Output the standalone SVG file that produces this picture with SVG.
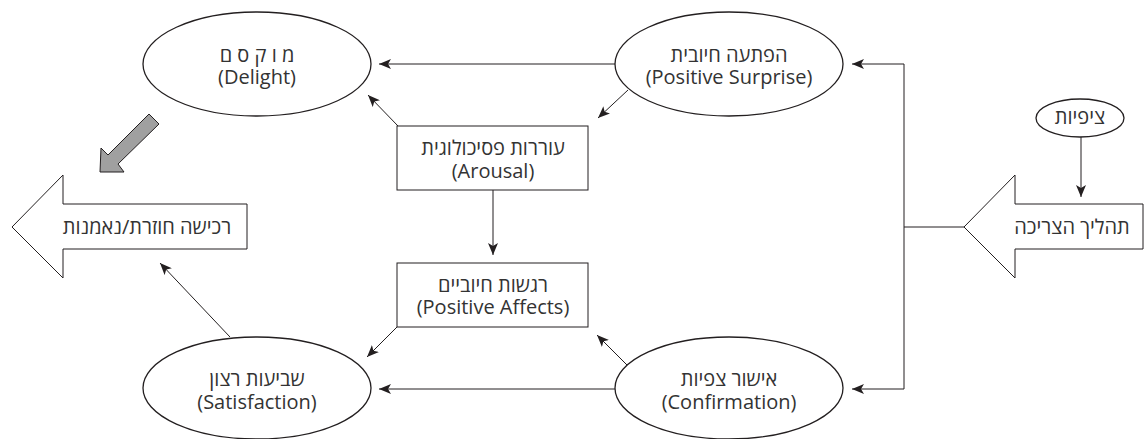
<svg xmlns="http://www.w3.org/2000/svg" width="1145" height="439" viewBox="0 0 1145 439">
<defs>
<marker id="ah" viewBox="0 0 12 10" refX="12" refY="5" markerWidth="12" markerHeight="10" markerUnits="userSpaceOnUse" orient="auto">
<path d="M0,0 L12,5 L0,10 L3,5 Z" fill="#231f20"/>
</marker>
</defs>
<style>
.sh{fill:#fff;stroke:#231f20;stroke-width:1.3}
.bx{fill:#fff;stroke:#231f20;stroke-width:1}
.t{font-family:"Open Sans","Noto Sans","DejaVu Sans",sans-serif;font-size:20px;fill:#333;text-anchor:middle}
.c{fill:none;stroke:#231f20;stroke-width:1}
</style>
<rect width="1145" height="439" fill="#fff"/>
<g id="connectors">
<line class="c" x1="615" y1="64" x2="379" y2="64" marker-end="url(#ah)"/>
<line class="c" x1="628" y1="90" x2="598" y2="118" marker-end="url(#ah)"/>
<line class="c" x1="398" y1="126" x2="368" y2="95" marker-end="url(#ah)"/>
<line class="c" x1="493" y1="190" x2="493" y2="255" marker-end="url(#ah)"/>
<line class="c" x1="397" y1="327" x2="367" y2="357" marker-end="url(#ah)"/>
<line class="c" x1="615" y1="389" x2="379" y2="389" marker-end="url(#ah)"/>
<line class="c" x1="627" y1="365" x2="597" y2="335" marker-end="url(#ah)"/>
<line class="c" x1="230" y1="337" x2="160" y2="263" marker-end="url(#ah)"/>
<line class="c" x1="1081" y1="137" x2="1081" y2="197" marker-end="url(#ah)"/>
<polyline class="c" points="964,227 904,227"/>
<line class="c" x1="904" y1="64" x2="904" y2="389"/>
<line class="c" x1="904" y1="64" x2="852" y2="64" marker-end="url(#ah)"/>
<line class="c" x1="904" y1="389" x2="852" y2="389" marker-end="url(#ah)"/>
<polygon points="149,114 159,124 118,164 124,172 100,172 101,148 108,155" fill="#a0a0a0" stroke="#231f20" stroke-width="1"/>
</g>
<g id="delight">
<ellipse class="sh" cx="257" cy="64" rx="114" ry="52"/>
<text class="t"><tspan x="257" y="62">מ ו ק ס ם</tspan><tspan x="257" y="84">(Delight)</tspan></text>
</g>
<g id="surprise">
<ellipse class="sh" cx="729" cy="64" rx="114" ry="52"/>
<text class="t"><tspan x="729" y="62">הפתעה חיובית</tspan><tspan x="729" y="84">(Positive Surprise)</tspan></text>
</g>
<g id="arousal">
<rect class="bx" x="397" y="126" width="191" height="64"/>
<text class="t"><tspan x="493" y="155">עוררות פסיכולוגית</tspan><tspan x="493" y="178">(Arousal)</tspan></text>
</g>
<g id="affects">
<rect class="bx" x="397" y="263" width="191" height="64"/>
<text class="t"><tspan x="493" y="292">רגשות חיוביים</tspan><tspan x="493" y="314">(Positive Affects)</tspan></text>
</g>
<g id="satisfaction">
<ellipse class="sh" cx="257" cy="388" rx="114" ry="51"/>
<text class="t"><tspan x="257" y="386">שביעות רצון</tspan><tspan x="257" y="409">(Satisfaction)</tspan></text>
</g>
<g id="confirmation">
<ellipse class="sh" cx="729" cy="388" rx="114" ry="51"/>
<text class="t"><tspan x="729" y="386">אישור צפיות</tspan><tspan x="729" y="409">(Confirmation)</tspan></text>
</g>
<g id="expectations">
<ellipse class="sh" cx="1080" cy="118" rx="44" ry="19"/>
<text class="t" x="1080" y="124">ציפיות</text>
</g>
<g id="loyalty">
<polygon class="bx" points="12,227 63,175 63,204 247,204 247,249 63,249 63,278"/>
<text class="t" x="147" y="234">רכישה חוזרת/נאמנות</text>
</g>
<g id="consumption">
<polygon class="bx" points="964,227 1015,175 1015,204 1143,204 1143,249 1015,249 1015,278"/>
<text class="t" x="1072" y="234">תהליך הצריכה</text>
</g>
</svg>
